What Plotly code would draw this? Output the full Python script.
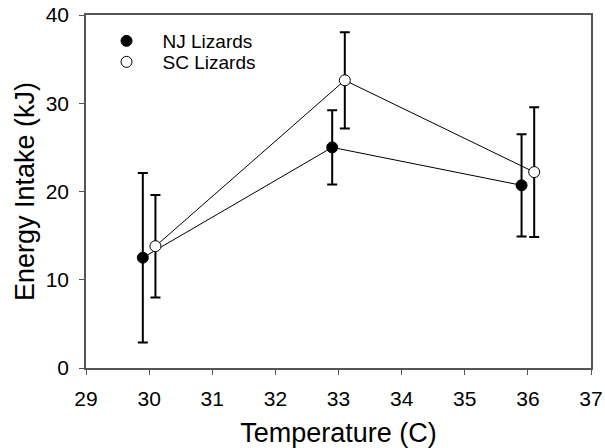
import plotly.graph_objects as go

# Data
nj_temp = [29.9, 32.9, 35.9]
nj_intake = [12.5, 25.0, 20.7]
nj_err = [9.6, 4.2, 5.8]

sc_temp = [30.1, 33.1, 36.1]
sc_intake = [13.8, 32.6, 22.2]
sc_err = [5.8, 5.45, 7.35]

x_ticks = [29, 30, 31, 32, 33, 34, 35, 36, 37]
y_ticks = [0, 10, 20, 30, 40]

FONT = "Liberation Sans, Arial, sans-serif"

fig = go.Figure()
fig.add_trace(go.Scatter(
    x=nj_temp, y=nj_intake, name="NJ Lizards", mode="lines+markers", showlegend=False,
    line=dict(color="black", width=1),
    marker=dict(color="black", size=11, line=dict(color="black", width=1)),
    error_y=dict(type="data", array=nj_err, visible=True, color="black", thickness=2, width=5),
))
fig.add_trace(go.Scatter(
    x=sc_temp, y=sc_intake, name="SC Lizards", mode="lines+markers", showlegend=False,
    line=dict(color="black", width=1),
    marker=dict(color="white", size=11, line=dict(color="black", width=1)),
    error_y=dict(type="data", array=sc_err, visible=True, color="black", thickness=2, width=5),
))
# legend-only entries (markers only)
fig.add_trace(go.Scatter(
    x=[None], y=[None], name="NJ Lizards", mode="markers", legend="legend",
    marker=dict(color="black", size=11, line=dict(color="black", width=1)),
))
fig.add_trace(go.Scatter(
    x=[None], y=[None], name="SC Lizards", mode="markers", legend="legend2",
    marker=dict(color="white", size=11, line=dict(color="black", width=1)),
))

leg_common = dict(xanchor="left", yanchor="middle", bgcolor="rgba(0,0,0,0)",
                  font=dict(size=19, family=FONT), itemwidth=62)

fig.update_layout(
    width=605, height=448,
    margin=dict(l=86, r=14, t=15, b=80),
    paper_bgcolor="white", plot_bgcolor="white",
    font=dict(family=FONT, color="black", size=21),
    showlegend=True,
    legend=dict(x=0.009, y=(353 - 26) / 353, **leg_common),
    legend2=dict(x=0.009, y=(353 - 47) / 353, **leg_common),
)
fig.update_xaxes(
    range=[29, 37], tickvals=x_ticks, ticktext=[str(v) for v in x_ticks],
    showline=True, linecolor="#555", linewidth=1.5, mirror=True,
    ticks="outside", ticklen=5, tickcolor="#555", showgrid=False, zeroline=False,
    tickfont=dict(size=21), automargin=False, ticklabelstandoff=6,
    ticklabeloverflow="allow",
    title=dict(text="Temperature (C)", font=dict(size=27), standoff=14),
)
fig.update_yaxes(
    range=[0, 40], tickvals=y_ticks, ticktext=[str(v) for v in y_ticks],
    showline=True, linecolor="#555", linewidth=1.5, mirror=True,
    ticks="outside", ticklen=5, tickcolor="#555", showgrid=False, zeroline=False,
    tickfont=dict(size=21), automargin=False, ticklabelstandoff=6,
    ticklabeloverflow="allow",
    title=dict(text="Energy Intake (kJ)", font=dict(size=27), standoff=3),
)

fig.write_html(
    "out.html",
    config={"displayModeBar": False},
    post_script="document.body.style.margin='0';document.body.style.overflow='hidden';",
)
